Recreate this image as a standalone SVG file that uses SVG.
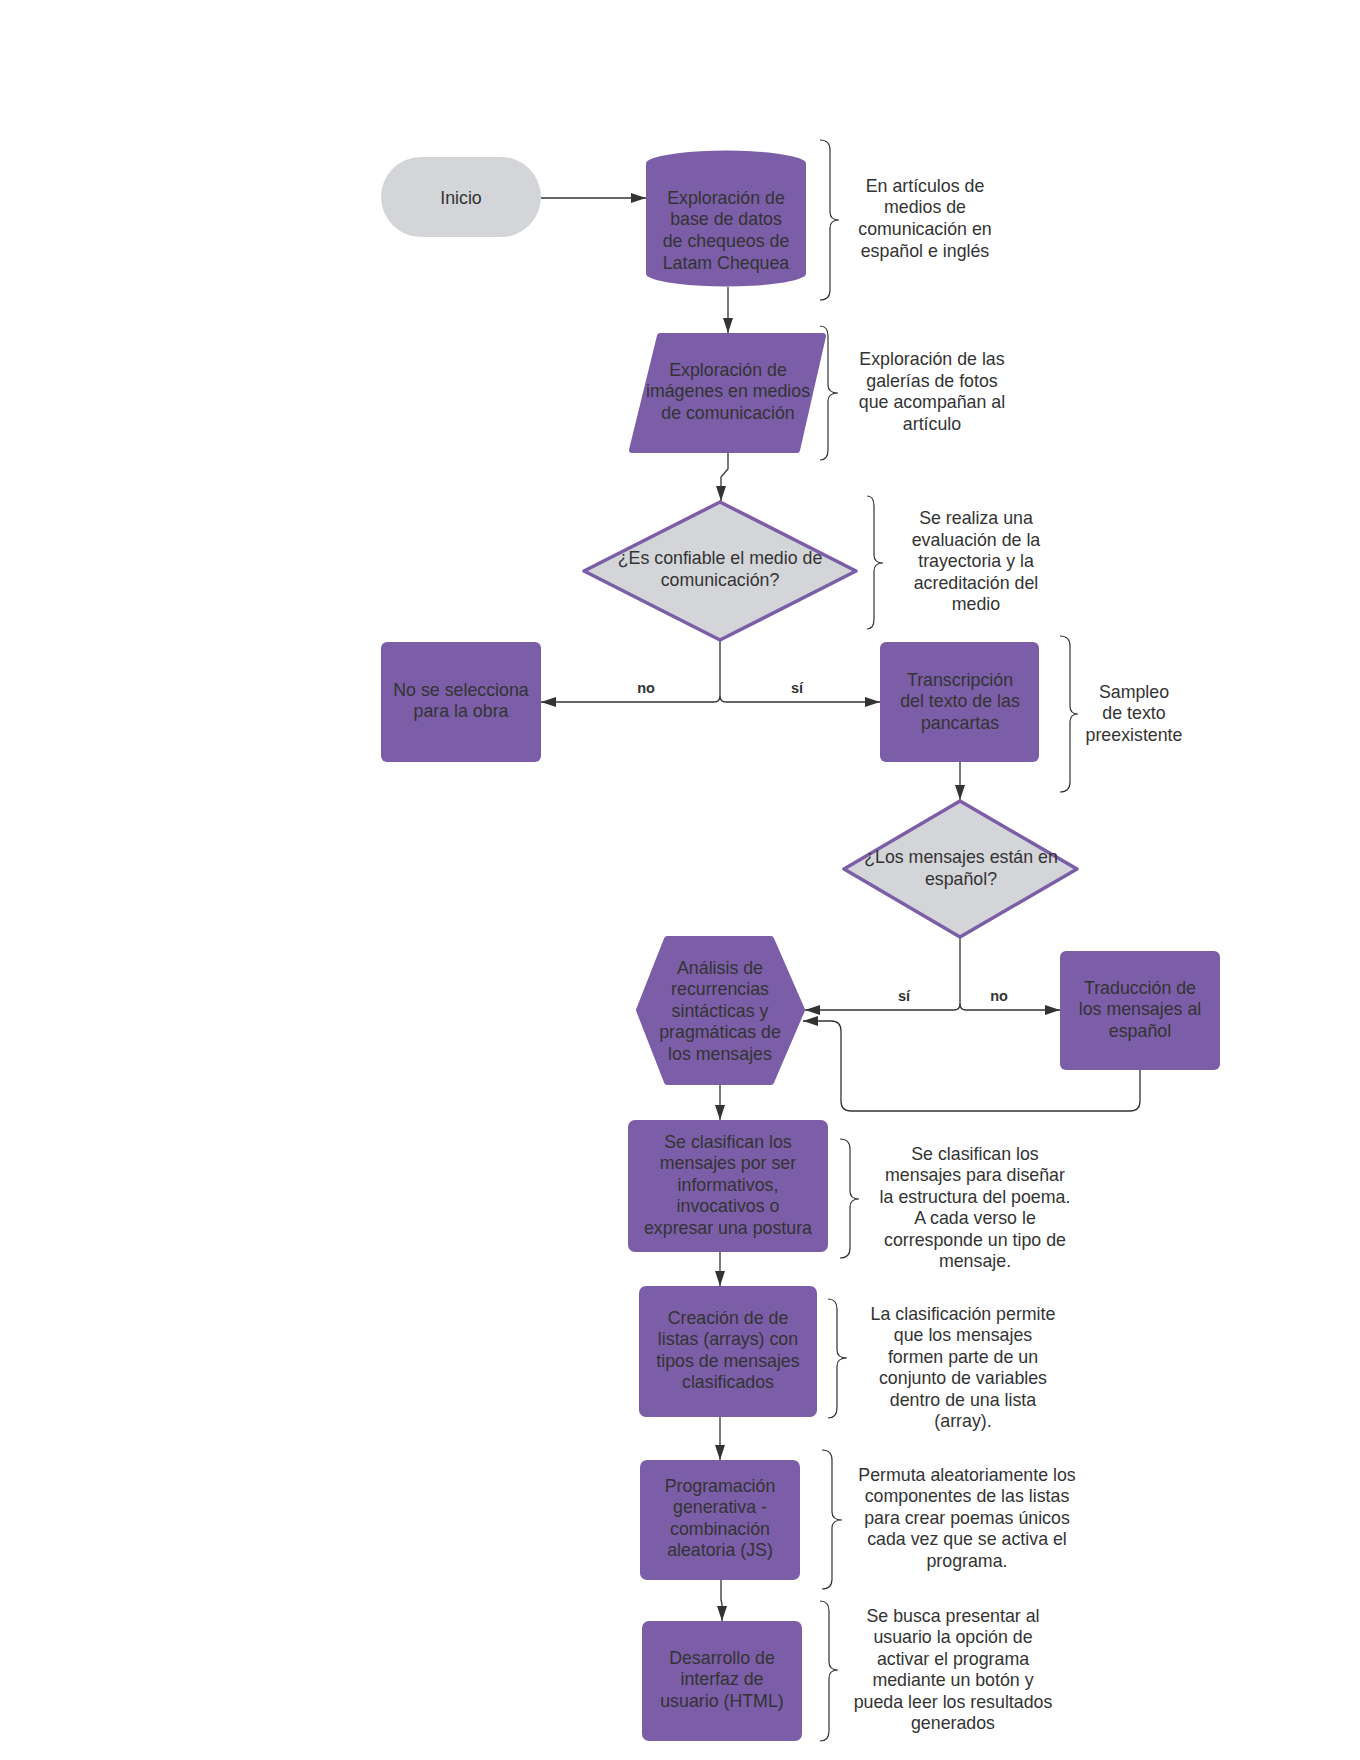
<svg xmlns="http://www.w3.org/2000/svg" width="1360" height="1760" viewBox="0 0 1360 1760">
<style>
.bg{fill:#ffffff}
.node{fill:#7B5EA7}
.gray{fill:#D3D5D8}
.dia{fill:#D3D5D8;stroke:#7B5EA7;stroke-width:3.5;stroke-linejoin:round}
.rnd{stroke:#7B5EA7;stroke-width:6;stroke-linejoin:round}
.t{font-family:"Liberation Sans",Arial,sans-serif;font-size:17.8px;fill:#333333;text-anchor:middle}
.lbl{font-family:"Liberation Sans",Arial,sans-serif;font-size:14.5px;font-weight:bold;fill:#333333;text-anchor:middle}
.c{fill:none;stroke:#333333;stroke-width:1.3}
.br{fill:none;stroke:#333333;stroke-width:1.2}
</style>
<defs>
<marker id="ah" markerUnits="userSpaceOnUse" markerWidth="16" markerHeight="11" refX="15" refY="5" orient="auto">
<path d="M0,0 L15,5 L0,10 Z" fill="#333333"/>
</marker>
</defs>
<rect class="bg" x="0" y="0" width="1360" height="1760"/>

<g id="connectors">
<path class="c" d="M541,198 L646,198" marker-end="url(#ah)"/>
<path class="c" d="M728,287 L728,333" marker-end="url(#ah)"/>
<path class="c" d="M728,453 L728,469 L721,477 L721,501" marker-end="url(#ah)"/>
<path class="c" d="M720,641 L720,696 Q720,702 714,702 L541,702" marker-end="url(#ah)"/>
<path class="c" d="M720,696 Q720,702 726,702 L880,702" marker-end="url(#ah)"/>
<path class="c" d="M960,762 L960,800" marker-end="url(#ah)"/>
<path class="c" d="M960,938 L960,1004 Q960,1010 954,1010 L805,1010" marker-end="url(#ah)"/>
<path class="c" d="M960,1004 Q960,1010 966,1010 L1060,1010" marker-end="url(#ah)"/>
<path class="c" d="M1140,1070 L1140,1101 Q1140,1111 1130,1111 L851,1111 Q841,1111 841,1101 L841,1031 Q841,1021 831,1021 L803,1021" marker-end="url(#ah)"/>
<path class="c" d="M720,1085 L720,1120" marker-end="url(#ah)"/>
<path class="c" d="M720,1252 L720,1286" marker-end="url(#ah)"/>
<path class="c" d="M720,1417 L720,1460" marker-end="url(#ah)"/>
<path class="c" d="M721,1580 L721,1600 L722,1604 L722,1621" marker-end="url(#ah)"/>
<text class="lbl" x="646" y="693">no</text>
<text class="lbl" x="797" y="693">sí</text>
<text class="lbl" x="904" y="1001">sí</text>
<text class="lbl" x="999" y="1001">no</text>
</g>

<g id="braces">
<path class="br" d="M820,140 Q830,140 830,150 L830,212 Q830,220 839,220 Q830,220 830,228 L830,290 Q830,300 820,300"/>
<path class="br" d="M820,326 Q828,326 828,336 L828,385 Q828,393 838,393 Q828,393 828,401 L828,450 Q828,460 820,460"/>
<path class="br" d="M867,496 Q874,496 874,506 L874,555 Q874,563 883,563 Q874,563 874,571 L874,619 Q874,629 867,629"/>
<path class="br" d="M1060,636 Q1070,636 1070,646 L1070,706 Q1070,714 1078,714 Q1070,714 1070,722 L1070,782 Q1070,792 1060,792"/>
<path class="br" d="M840,1139 Q850,1139 850,1149 L850,1191 Q850,1199 859,1199 Q850,1199 850,1207 L850,1248 Q850,1258 840,1258"/>
<path class="br" d="M828,1299 Q837,1299 837,1309 L837,1350 Q837,1358 847,1358 Q837,1358 837,1366 L837,1408 Q837,1418 828,1418"/>
<path class="br" d="M822,1450 Q832,1450 832,1460 L832,1512 Q832,1520 842,1520 Q832,1520 832,1528 L832,1579 Q832,1589 822,1589"/>
<path class="br" d="M820,1601 Q829,1601 829,1611 L829,1662 Q829,1670 838,1670 Q829,1670 829,1678 L829,1731 Q829,1741 820,1741"/>
</g>

<g id="n-inicio">
<rect class="gray" x="381" y="157" width="160" height="80" rx="40"/>
<text class="t" x="461" y="203.5">Inicio</text>
</g>

<g id="n-basedatos">
<path class="node" d="M646,164 Q646,161 649,160 A80,13 0 0 1 803,160 Q806,161 806,164 L806,273 Q806,276 803,277 A80,13 0 0 1 649,277 Q646,276 646,273 Z"/>
<text class="t" x="726" y="203.5">Exploración de</text>
<text class="t" x="726" y="225.3">base de datos</text>
<text class="t" x="726" y="247.1">de chequeos de</text>
<text class="t" x="726" y="268.9">Latam Chequea</text>
</g>

<g id="s-1">
<text class="t" x="925" y="191.5">En artículos de</text>
<text class="t" x="925" y="213.3">medios de</text>
<text class="t" x="925" y="235.1">comunicación en</text>
<text class="t" x="925" y="256.9">español e inglés</text>
</g>

<g id="n-imagenes">
<polygon class="node rnd" points="660,336 823,336 797,450 632,450"/>
<text class="t" x="728" y="375.5">Exploración de</text>
<text class="t" x="728" y="397.2">imágenes en medios</text>
<text class="t" x="728" y="418.9">de comunicación</text>
</g>

<g id="s-2">
<text class="t" x="932" y="364.8">Exploración de las</text>
<text class="t" x="932" y="386.5">galerías de fotos</text>
<text class="t" x="932" y="408.2">que acompañan al</text>
<text class="t" x="932" y="429.9">artículo</text>
</g>

<g id="n-confiable">
<polygon class="dia" points="720,502 856,571 720,640 584,571"/>
<text class="t" x="720" y="564.3">¿Es confiable el medio de</text>
<text class="t" x="720" y="585.5">comunicación?</text>
</g>

<g id="s-3">
<text class="t" x="976" y="524.2">Se realiza una</text>
<text class="t" x="976" y="545.7">evaluación de la</text>
<text class="t" x="976" y="567.2">trayectoria y la</text>
<text class="t" x="976" y="588.7">acreditación del</text>
<text class="t" x="976" y="610.2">medio</text>
</g>

<g id="n-noselecciona">
<rect class="node" x="381" y="642" width="160" height="120" rx="6"/>
<text class="t" x="461" y="695.5">No se selecciona</text>
<text class="t" x="461" y="717">para la obra</text>
</g>

<g id="n-transcripcion">
<rect class="node" x="880" y="642" width="159" height="120" rx="6"/>
<text class="t" x="960" y="685.5">Transcripción</text>
<text class="t" x="960" y="707">del texto de las</text>
<text class="t" x="960" y="728.5">pancartas</text>
</g>

<g id="s-4">
<text class="t" x="1134" y="697.5">Sampleo</text>
<text class="t" x="1134" y="719">de texto</text>
<text class="t" x="1134" y="740.5">preexistente</text>
</g>

<g id="n-espanol">
<polygon class="dia" points="960,801 1077,869 960,937 844,869"/>
<text class="t" x="961" y="863">¿Los mensajes están en</text>
<text class="t" x="961" y="884.5">español?</text>
</g>

<g id="n-analisis">
<polygon class="node rnd" points="667,939 771,939 802,1010 771,1082 667,1082 639,1010"/>
<text class="t" x="720" y="973.5">Análisis de</text>
<text class="t" x="720" y="995">recurrencias</text>
<text class="t" x="720" y="1016.5">sintácticas y</text>
<text class="t" x="720" y="1038">pragmáticas de</text>
<text class="t" x="720" y="1059.5">los mensajes</text>
</g>

<g id="n-traduccion">
<rect class="node" x="1060" y="951" width="160" height="119" rx="6"/>
<text class="t" x="1140" y="993.5">Traducción de</text>
<text class="t" x="1140" y="1015">los mensajes al</text>
<text class="t" x="1140" y="1036.5">español</text>
</g>

<g id="n-clasifican">
<rect class="node" x="628" y="1120" width="200" height="132" rx="7"/>
<text class="t" x="728" y="1147.5">Se clasifican los</text>
<text class="t" x="728" y="1169">mensajes por ser</text>
<text class="t" x="728" y="1190.5">informativos,</text>
<text class="t" x="728" y="1212">invocativos o</text>
<text class="t" x="728" y="1233.5">expresar una postura</text>
</g>

<g id="s-5">
<text class="t" x="975" y="1159.5">Se clasifican los</text>
<text class="t" x="975" y="1181">mensajes para diseñar</text>
<text class="t" x="975" y="1202.5">la estructura del poema.</text>
<text class="t" x="975" y="1224">A cada verso le</text>
<text class="t" x="975" y="1245.5">corresponde un tipo de</text>
<text class="t" x="975" y="1267">mensaje.</text>
</g>

<g id="n-creacion">
<rect class="node" x="639" y="1286" width="178" height="131" rx="7"/>
<text class="t" x="728" y="1323.5">Creación de de</text>
<text class="t" x="728" y="1345">listas (arrays) con</text>
<text class="t" x="728" y="1366.5">tipos de mensajes</text>
<text class="t" x="728" y="1388">clasificados</text>
</g>

<g id="s-6">
<text class="t" x="963" y="1319.5">La clasificación permite</text>
<text class="t" x="963" y="1341">que los mensajes</text>
<text class="t" x="963" y="1362.5">formen parte de un</text>
<text class="t" x="963" y="1384">conjunto de variables</text>
<text class="t" x="963" y="1405.5">dentro de una lista</text>
<text class="t" x="963" y="1427">(array).</text>
</g>

<g id="n-programacion">
<rect class="node" x="640" y="1460" width="160" height="120" rx="7"/>
<text class="t" x="720" y="1491.5">Programación</text>
<text class="t" x="720" y="1513">generativa -</text>
<text class="t" x="720" y="1534.5">combinación</text>
<text class="t" x="720" y="1556">aleatoria (JS)</text>
</g>

<g id="s-7">
<text class="t" x="967" y="1480.5">Permuta aleatoriamente los</text>
<text class="t" x="967" y="1502">componentes de las listas</text>
<text class="t" x="967" y="1523.5">para crear poemas únicos</text>
<text class="t" x="967" y="1545">cada vez que se activa el</text>
<text class="t" x="967" y="1566.5">programa.</text>
</g>

<g id="n-desarrollo">
<rect class="node" x="642" y="1621" width="160" height="120" rx="7"/>
<text class="t" x="722" y="1663.5">Desarrollo de</text>
<text class="t" x="722" y="1685">interfaz de</text>
<text class="t" x="722" y="1706.5">usuario (HTML)</text>
</g>

<g id="s-8">
<text class="t" x="953" y="1621.5">Se busca presentar al</text>
<text class="t" x="953" y="1643">usuario la opción de</text>
<text class="t" x="953" y="1664.5">activar el programa</text>
<text class="t" x="953" y="1686">mediante un botón y</text>
<text class="t" x="953" y="1707.5">pueda leer los resultados</text>
<text class="t" x="953" y="1729">generados</text>
</g>
</svg>
